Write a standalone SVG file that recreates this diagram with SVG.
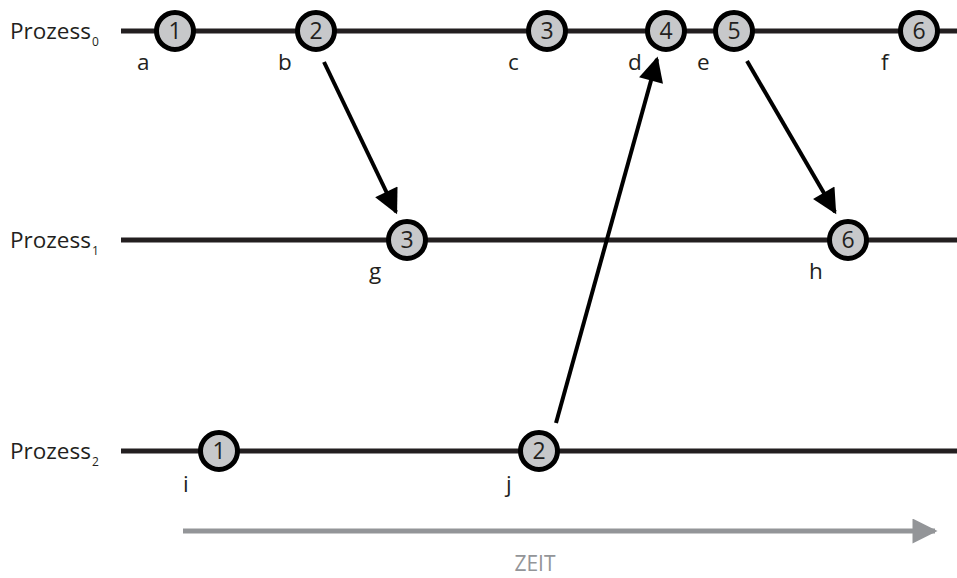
<svg xmlns="http://www.w3.org/2000/svg" width="957" height="578" viewBox="0 0 957 578">
  <style>
    .lane { stroke: #231f20; stroke-width: 5; fill: none; }
    .ev circle { fill: #c7c8ca; stroke: #000; stroke-width: 5; }
    .ev text { font-family: "Open Sans", "Liberation Sans", sans-serif; font-size: 23px; fill: #231f20; text-anchor: middle; }
    .lbl { font-family: "Open Sans", "Liberation Sans", sans-serif; font-size: 22.5px; fill: #231f20; }
    .sub { font-size: 12px; }
    .msg { stroke: #000; stroke-width: 4; fill: none; marker-end: url(#head); }
  </style>
  <defs>
    <marker id="head" viewBox="0 0 10 10" refX="9" refY="5" markerWidth="7" markerHeight="6.2" markerUnits="strokeWidth" orient="auto">
      <path d="M0,0 L10,5 L0,10 Z" fill="#000"/>
    </marker>
    <marker id="timehead" viewBox="0 0 10 10" refX="9" refY="5" markerWidth="8" markerHeight="5" markerUnits="strokeWidth" orient="auto">
      <path d="M0,0 L10,5 L0,10 Z" fill="#939598"/>
    </marker>
  </defs>

  <!-- process lanes -->
  <g id="lanes">
    <text class="lbl" x="10" y="39">Prozess<tspan class="sub" dx="1" dy="7">0</tspan></text>
    <line class="lane" x1="121" y1="31" x2="957" y2="31"/>
    <text class="lbl" x="10" y="248">Prozess<tspan class="sub" dx="1" dy="7">1</tspan></text>
    <line class="lane" x1="121" y1="240" x2="957" y2="240"/>
    <text class="lbl" x="10" y="459">Prozess<tspan class="sub" dx="1" dy="7">2</tspan></text>
    <line class="lane" x1="121" y1="451" x2="957" y2="451"/>
  </g>

  <!-- messages between processes -->
  <g id="connectors">
    <line class="msg" x1="324" y1="62" x2="396" y2="212"/>
    <line class="msg" x1="556" y1="423" x2="657" y2="59"/>
    <line class="msg" x1="747" y1="61" x2="835" y2="212"/>
  </g>

  <!-- events of process 0 -->
  <g id="a" class="ev"><circle cx="175" cy="31" r="18.5"/><text x="175" y="39">1</text></g>
  <g id="b" class="ev"><circle cx="316" cy="31" r="18.5"/><text x="316" y="39">2</text></g>
  <g id="c" class="ev"><circle cx="547" cy="31" r="18.5"/><text x="547" y="39">3</text></g>
  <g id="d" class="ev"><circle cx="666" cy="31" r="18.5"/><text x="666" y="39">4</text></g>
  <g id="e" class="ev"><circle cx="734" cy="31" r="18.5"/><text x="734" y="39">5</text></g>
  <g id="f" class="ev"><circle cx="919" cy="31" r="18.5"/><text x="919" y="39">6</text></g>
  <!-- events of process 1 -->
  <g id="g" class="ev"><circle cx="407" cy="240" r="18.5"/><text x="407" y="248">3</text></g>
  <g id="h" class="ev"><circle cx="848" cy="240" r="18.5"/><text x="848" y="248">6</text></g>
  <!-- events of process 2 -->
  <g id="i" class="ev"><circle cx="219" cy="451" r="18.5"/><text x="219" y="459">1</text></g>
  <g id="j" class="ev"><circle cx="539" cy="451" r="18.5"/><text x="539" y="459">2</text></g>

  <!-- event names -->
  <g id="names">
    <text class="lbl" x="137" y="70">a</text>
    <text class="lbl" x="278" y="70">b</text>
    <text class="lbl" x="508" y="70">c</text>
    <text class="lbl" x="628" y="70">d</text>
    <text class="lbl" x="697" y="70">e</text>
    <text class="lbl" x="881" y="70">f</text>
    <text class="lbl" x="369" y="279">g</text>
    <text class="lbl" x="809" y="279">h</text>
    <text class="lbl" x="183" y="492">i</text>
    <text class="lbl" x="506" y="492">j</text>
  </g>

  <!-- time axis -->
  <g id="time">
    <line x1="183" y1="531" x2="935" y2="531" stroke="#939598" stroke-width="5" marker-end="url(#timehead)"/>
    <text x="535" y="571" font-family="Open Sans, Liberation Sans, sans-serif" font-size="21" fill="#939598" text-anchor="middle">ZEIT</text>
  </g>
</svg>
